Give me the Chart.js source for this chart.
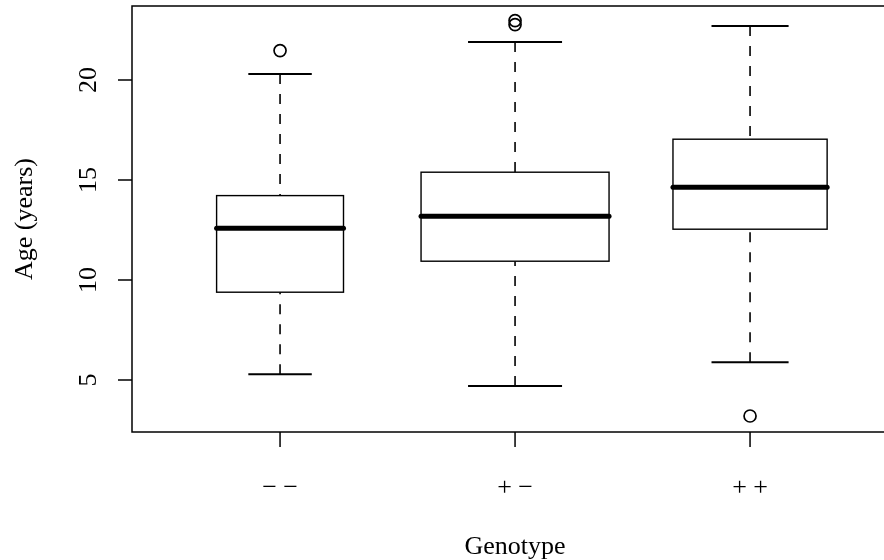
<!DOCTYPE html>
<html>
<head>
<meta charset="utf-8">
<script src="https://cdn.jsdelivr.net/npm/chart.js@4/dist/chart.umd.min.js"></script>
<style>
  html, body { margin: 0; padding: 0; background: #fff; overflow: hidden; }
  canvas { display: block; }
</style>
</head>
<body>
<canvas id="boxChart" width="884" height="560"></canvas>
<script>
// Data
const categories = ['\u2212 \u2212', '+ \u2212', '+ +'];
const whiskerLow = [5.29, 4.70, 5.89];
const q1 = [9.39, 10.94, 12.54];
const median = [12.59, 13.19, 14.64];
const q3 = [14.22, 15.39, 17.04];
const whiskerHigh = [20.30, 21.90, 22.70];
const outlierGroup = [1, 2, 2, 3];
const outlierAge = [21.47, 22.97, 22.77, 3.20];
const yTicks = [5, 10, 15, 20];

// Styling (varwidth boxes, R-like look)
const boxHalf = [0.27, 0.40, 0.328];
const font = "'Liberation Serif', 'DejaVu Serif', serif";
const ink = '#000';

const boxPlugin = {
  id: 'rBoxplot',
  beforeDatasetsDraw(chart) {
    const { ctx, scales: { x, y } } = chart;
    ctx.save();
    ctx.strokeStyle = ink;
    categories.forEach((_, i) => {
      const c = i + 1;
      const xl = x.getPixelForValue(c - boxHalf[i]);
      const xr = x.getPixelForValue(c + boxHalf[i]);
      const xs1 = x.getPixelForValue(c - boxHalf[i] / 2);
      const xs2 = x.getPixelForValue(c + boxHalf[i] / 2);
      const xc = x.getPixelForValue(c);

      // whiskers: dashed, drawn from the whisker end toward the box
      ctx.lineWidth = 1.6;
      ctx.setLineDash([10, 10]);
      ctx.lineCap = 'butt';
      ctx.beginPath();
      ctx.moveTo(xc, y.getPixelForValue(whiskerLow[i]));
      ctx.lineTo(xc, y.getPixelForValue(q1[i]));
      ctx.moveTo(xc, y.getPixelForValue(whiskerHigh[i]));
      ctx.lineTo(xc, y.getPixelForValue(q3[i]));
      ctx.stroke();
      ctx.setLineDash([]);

      // staples
      ctx.lineWidth = 2;
      ctx.beginPath();
      ctx.moveTo(xs1, y.getPixelForValue(whiskerLow[i]));
      ctx.lineTo(xs2, y.getPixelForValue(whiskerLow[i]));
      ctx.moveTo(xs1, y.getPixelForValue(whiskerHigh[i]));
      ctx.lineTo(xs2, y.getPixelForValue(whiskerHigh[i]));
      ctx.stroke();

      // box
      ctx.lineWidth = 1.4;
      const yt = y.getPixelForValue(q3[i]);
      const yb = y.getPixelForValue(q1[i]);
      ctx.fillStyle = '#fff';
      ctx.fillRect(xl, yt, xr - xl, yb - yt);
      ctx.strokeRect(xl, yt, xr - xl, yb - yt);

      // median
      ctx.lineWidth = 5;
      ctx.lineCap = 'round';
      ctx.beginPath();
      ctx.moveTo(xl, y.getPixelForValue(median[i]));
      ctx.lineTo(xr, y.getPixelForValue(median[i]));
      ctx.stroke();
    });
    ctx.restore();
  },
  afterDraw(chart) {
    const { ctx, chartArea: a, scales: { x, y } } = chart;
    ctx.save();
    ctx.strokeStyle = ink;
    ctx.fillStyle = ink;
    ctx.lineWidth = 1.5;
    // frame (right side runs off the canvas like the reference)
    ctx.strokeRect(a.left, a.top, a.right + 10 - a.left, a.bottom - a.top);

    // y axis ticks + rotated labels
    ctx.font = '26px ' + font;
    ctx.textAlign = 'center';
    ctx.textBaseline = 'alphabetic';
    yTicks.forEach(v => {
      const py = y.getPixelForValue(v);
      ctx.beginPath();
      ctx.moveTo(a.left - 14, py);
      ctx.lineTo(a.left, py);
      ctx.stroke();
      ctx.save();
      ctx.translate(96, py);
      ctx.rotate(-Math.PI / 2);
      ctx.fillText(String(v), 0, 0);
      ctx.restore();
    });

    // x axis ticks + labels
    categories.forEach((lab, i) => {
      const px = x.getPixelForValue(i + 1);
      ctx.beginPath();
      ctx.moveTo(px, a.bottom);
      ctx.lineTo(px, a.bottom + 15);
      ctx.stroke();
      ctx.fillText(lab, px, 495);
    });

    // axis titles
    ctx.fillText('Genotype', x.getPixelForValue(2), 554);
    ctx.save();
    ctx.translate(32, (a.top + a.bottom) / 2);
    ctx.rotate(-Math.PI / 2);
    ctx.fillText('Age (years)', 0, 0);
    ctx.restore();
    ctx.restore();
  }
};

new Chart(document.getElementById('boxChart'), {
  type: 'scatter',
  data: {
    datasets: [{
      label: 'Outliers',
      data: outlierGroup.map((g, i) => ({ x: g, y: outlierAge[i] })),
      pointRadius: 6,
      pointHoverRadius: 6,
      pointBorderWidth: 1.7,
      pointBorderColor: ink,
      pointBackgroundColor: 'rgba(0,0,0,0)'
    }]
  },
  options: {
    responsive: false,
    animation: false,
    layout: { autoPadding: false, padding: { left: 132, top: 6, right: 0, bottom: 128 } },
    plugins: { legend: { display: false }, tooltip: { enabled: false } },
    scales: {
      x: { type: 'linear', min: 0.37, max: 3.57, display: false },
      y: { type: 'linear', min: 2.4, max: 23.7, display: false }
    }
  },
  plugins: [boxPlugin]
});
</script>
</body>
</html>
